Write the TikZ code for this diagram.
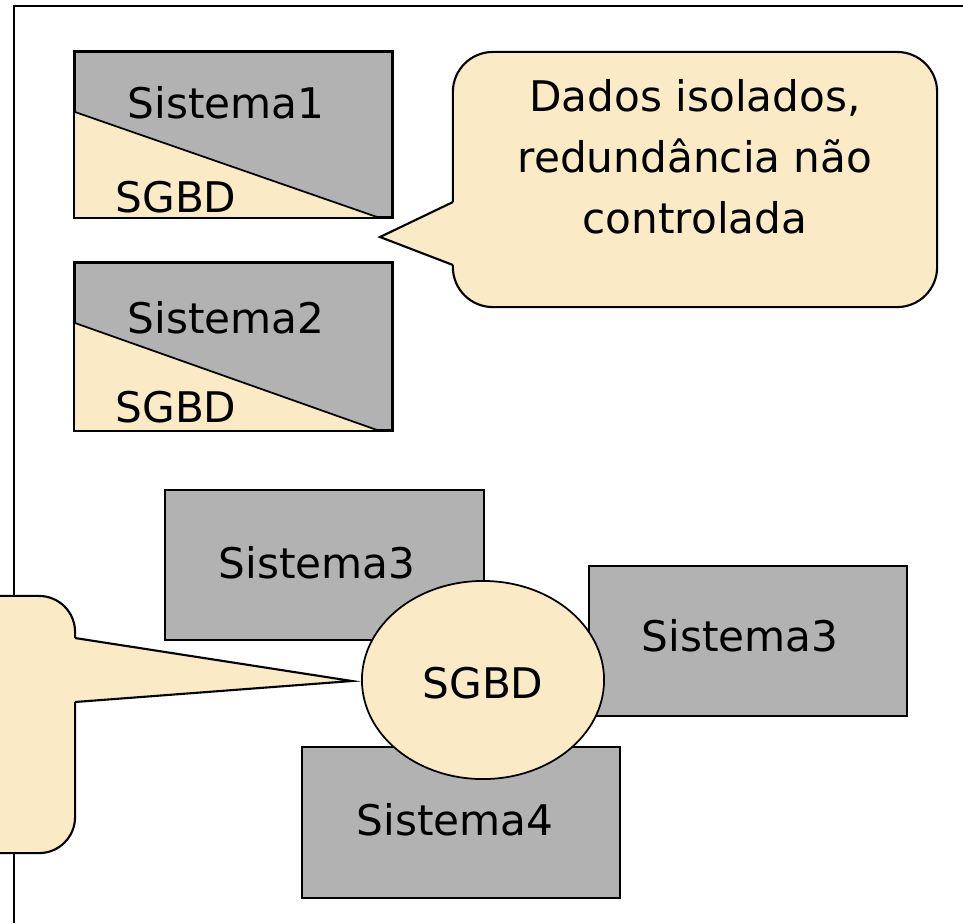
\documentclass[tikz,border=0pt]{standalone}
\usepackage{fontspec}
\setmainfont{DejaVu Sans}
\usetikzlibrary{shapes.geometric}
\definecolor{beige}{RGB}{250,235,198}
\definecolor{boxgray}{RGB}{178,178,178}
\begin{document}
\begin{tikzpicture}[x=0.01cm,y=-0.01cm,
  sysbox/.style={draw=black, fill=boxgray, line width=0.6pt, inner sep=0pt, rectangle},
  lbl/.style={font=\fontsize{12}{14}\selectfont, inner sep=0pt},
  callout/.style={draw=black, fill=beige, line width=0.6pt, rectangle, rounded corners=0.4cm, inner sep=0pt},
  tailline/.style={draw=black, line width=0.6pt, line join=miter},
  frameline/.style={draw=black, line width=0.6pt}]
\useasboundingbox (0,0) rectangle (963,923);
\clip (0,0) rectangle (963,923);
\fill[white] (0,0) rectangle (963,923);
% frame
\coordinate (fbl) at (14,923);
\coordinate (ftl) at (14,6);
\coordinate (ftr) at (963,6);
\draw[frameline] (fbl) -- (ftl) -- (ftr);
% system 1
\node[sysbox, minimum width=3.17cm, minimum height=1.65cm] (s1) at (233.5,134.5) {};
\fill[beige] (75,112) -- (377,217) -- (75,217) -- cycle;
\draw[line width=0.5pt] (75,112) -- (377,217);
\draw[line width=0.6pt] (s1.north west) rectangle (s1.south east);
\node[lbl] (s1t) at (226,103) {Sistema1};
\node[lbl] (s1d) at (176,197) {SGBD};
% system 2
\node[sysbox, minimum width=3.17cm, minimum height=1.67cm] (s2) at (233.5,346.5) {};
\fill[beige] (75,323) -- (377,430) -- (75,430) -- cycle;
\draw[line width=0.5pt] (75,323) -- (377,430);
\draw[line width=0.6pt] (s2.north west) rectangle (s2.south east);
\node[lbl] (s2t) at (226,318) {Sistema2};
\node[lbl] (s2d) at (176,407) {SGBD};
% top callout
\node[callout, minimum width=4.84cm, minimum height=2.55cm] (c1) at (695,179.5) {};
\coordinate (c1a) at (453,202);
\coordinate (c1tip) at (380,237);
\coordinate (c1b) at (453,265);
\fill[beige] (c1tip) -- (c1a) -- (458,202) -- (458,265) -- (c1b) -- cycle;
\draw[tailline] (c1a) -- (c1tip) -- (c1b);
\node[lbl, align=center, font=\fontsize{12}{17.4}\selectfont] (c1t) at (695,157)
  {Dados isolados,\\redundância não\\controlada};
% left callout (cut by the picture edge)
\node[callout, rounded corners=0.36cm, minimum width=2.75cm, minimum height=2.57cm] (c2) at (-62.5,724.5) {};
\coordinate (c2a) at (75,638);
\coordinate (c2tip) at (352,681);
\coordinate (c2b) at (75,702);
\fill[beige] (c2tip) -- (c2a) -- (70,638) -- (70,702) -- (c2b) -- cycle;
\draw[tailline] (c2a) -- (c2tip) -- (c2b);
% bottom systems
\node[sysbox, minimum width=3.19cm, minimum height=1.5cm] (s3a) at (324.5,565) {};
\node[lbl] (s3at) at (317,563) {Sistema3};
\node[sysbox, minimum width=3.18cm, minimum height=1.5cm] (s3b) at (748,641) {};
\node[lbl] (s3bt) at (740,636) {Sistema3};
\node[sysbox, minimum width=3.18cm, minimum height=1.51cm] (s4) at (461,822.5) {};
\node[lbl] (s4t) at (455,820) {Sistema4};
% central DBMS
\node[ellipse, draw=black, fill=beige, line width=0.5pt, inner sep=0pt,
      minimum width=2.42cm, minimum height=1.98cm] (db) at (483,680) {};
\node[lbl] (dbt) at (483,683) {SGBD};
\end{tikzpicture}
\end{document}
